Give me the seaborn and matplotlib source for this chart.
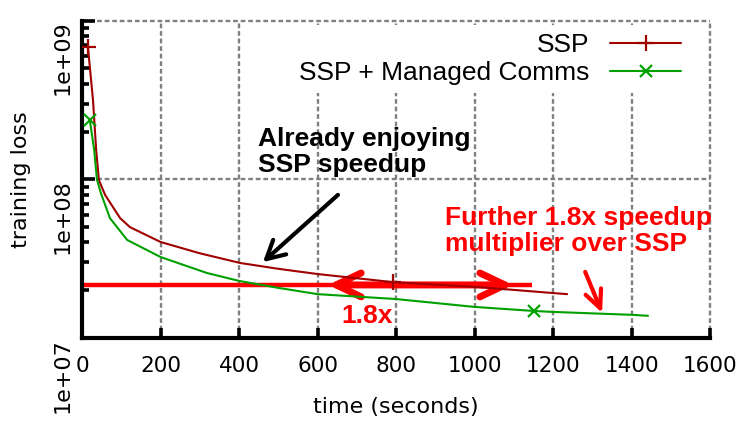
import numpy as np
import pandas as pd
import seaborn as sns
import matplotlib
matplotlib.use("Agg")
import matplotlib.pyplot as plt
from matplotlib.ticker import FixedLocator, LogLocator, NullFormatter

# training loss vs. time
ssp_time = [15, 28, 36, 43, 59, 97, 122, 200, 300, 403, 500, 600, 700, 792,
            900, 1000, 1100, 1200, 1236]
ssp_loss = [6.84e8, 3.16e8, 1.53e8, 9.9e7, 7.96e7, 5.7e7, 5.0e7, 4.03e7, 3.42e7,
            2.97e7, 2.73e7, 2.53e7, 2.38e7, 2.25e7, 2.17e7, 2.10e7, 2.01e7,
            1.92e7, 1.89e7]
ssp_marks = [0, 13]

mc_time = [20, 31, 38, 48, 71, 115, 200, 318, 400, 500, 600, 800, 1000, 1152,
           1200, 1400, 1442]
mc_loss = [2.35e8, 1.53e8, 1.0e8, 8.2e7, 5.7e7, 4.15e7, 3.24e7, 2.57e7, 2.29e7,
           2.07e7, 1.89e7, 1.76e7, 1.57e7, 1.48e7, 1.46e7, 1.40e7, 1.38e7]
mc_marks = [0, 13]

x_ticks = [0, 200, 400, 600, 800, 1000, 1200, 1400, 1600]
y_ticks = [1e7, 1e8, 1e9]
y_labels = ["1e+07", "1e+08", "1e+09"]

target_loss = 2.16e7   # loss level reached by SSP, shown as red line
target_end = 1147

sns.set_theme(style="white")
plt.rcParams["font.family"] = ["DejaVu Sans"]
plt.rcParams["text.color"] = "black"
plt.rcParams["axes.labelcolor"] = "black"
plt.rcParams["xtick.color"] = "black"
plt.rcParams["ytick.color"] = "black"

fig = plt.figure(figsize=(7.47, 4.28), dpi=100)
ax = fig.add_axes([0.1098, 0.2103, 0.8407, 0.7413])

# red helper line + double arrow (under the curves)
ax.plot([0, target_end], [target_loss, target_loss], color="#ff0000", lw=3.2,
        solid_capstyle="butt", zorder=1.5)
ax.annotate("", xy=(627, target_loss), xytext=(1098, target_loss),
            arrowprops=dict(arrowstyle="<->,head_length=1.8,head_width=0.86",
                            mutation_scale=10, color="#ff0000", lw=5,
                            shrinkA=0, shrinkB=0, capstyle="round",
                            joinstyle="round"),
            zorder=1.6)

ssp = pd.DataFrame({"time": ssp_time, "loss": ssp_loss})
mc = pd.DataFrame({"time": mc_time, "loss": mc_loss})

sns.lineplot(data=ssp, x="time", y="loss", ax=ax, color="#a00000", lw=1.5,
             marker="+", markersize=11, markeredgewidth=1.6,
             markeredgecolor="#a00000", markevery=ssp_marks, label="SSP",
             zorder=3)
sns.lineplot(data=mc, x="time", y="loss", ax=ax, color="#00a000", lw=1.5,
             marker="x", markersize=9, markeredgewidth=1.6,
             markeredgecolor="#00a000", markevery=mc_marks,
             label="SSP + Managed Comms", zorder=3)

ax.set_yscale("log")
ax.set_xlim(0, 1600)
ax.set_ylim(1e7, 1e9)

ax.xaxis.set_major_locator(FixedLocator(x_ticks))
ax.set_xticklabels([str(v) for v in x_ticks])
ax.yaxis.set_major_locator(FixedLocator(y_ticks))
ax.yaxis.set_minor_locator(LogLocator(base=10, subs=np.arange(2, 10)))
ax.yaxis.set_minor_formatter(NullFormatter())
ax.set_yticklabels(y_labels)

ax.tick_params(axis="x", which="major", direction="in", length=7.5, width=2.6,
               color="black", labelcolor="black", labelsize=15.5, pad=13,
               bottom=True)
ax.tick_params(axis="y", which="major", direction="in", length=9, width=2.6,
               color="black", labelcolor="black", labelsize=16, pad=7,
               left=True)
ax.tick_params(axis="y", which="minor", direction="in", length=5, width=2.6,
               color="black", left=True)
for lab in ax.get_yticklabels():
    lab.set_rotation(90)
    lab.set_va("top")
    lab.set_ha("right")

for s in ["top", "right"]:
    ax.spines[s].set_visible(False)
for s in ["left", "bottom"]:
    ax.spines[s].set_color("black")
    ax.spines[s].set_linewidth(3)

ax.grid(True, which="major", color="#808080", lw=1.7, linestyle=(0, (2, 1.2)))
ax.set_axisbelow(True)
for gl in ax.get_xgridlines() + ax.get_ygridlines():
    gl.set_clip_on(False)

ax.set_xlabel("time (seconds)", fontsize=16, color="black")
ax.set_ylabel("training loss", fontsize=16, color="black")
ax.xaxis.set_label_coords(0.5, -0.186)
ax.yaxis.set_label_coords(-0.082, 0.5)

leg = ax.legend(loc="upper right", bbox_to_anchor=(0.967, 0.985),
                markerfirst=False, frameon=True, facecolor="white",
                edgecolor="none", framealpha=1, fancybox=False,
                prop={"family": "Liberation Sans", "size": 19},
                handlelength=2.7, handletextpad=0.8, labelspacing=0.15,
                borderpad=0.3, borderaxespad=0)
for t in leg.get_texts():
    t.set_ha("right")
    t.set_color("black")

bold = {"family": "Liberation Sans", "weight": "bold", "size": 19}
ax.text(448, 2.14e8, "Already enjoying\nSSP speedup", ha="left", va="top",
        color="black", linespacing=1.1, zorder=4, **bold)
ax.text(925, 6.79e7, "Further 1.8x speedup\nmultiplier over SSP", ha="left",
        va="top", color="#ff0000", linespacing=1.1, zorder=4, **bold)
ax.text(726, 1.38e7, "1.8x", ha="center", va="center", color="#ff0000",
        zorder=4, **bold)

ax.annotate("", xy=(461, 3.01e7), xytext=(652, 7.98e7),
            arrowprops=dict(arrowstyle="->,head_length=1.3,head_width=0.7",
                            mutation_scale=10, color="black", lw=3,
                            shrinkA=0, shrinkB=0))
ax.annotate("", xy=(1325, 1.44e7), xytext=(1282, 2.61e7),
            arrowprops=dict(arrowstyle="->,head_length=1.3,head_width=0.6",
                            mutation_scale=10, color="#ff0000", lw=3,
                            shrinkA=0, shrinkB=0))

fig.savefig("out.png", dpi=100)
